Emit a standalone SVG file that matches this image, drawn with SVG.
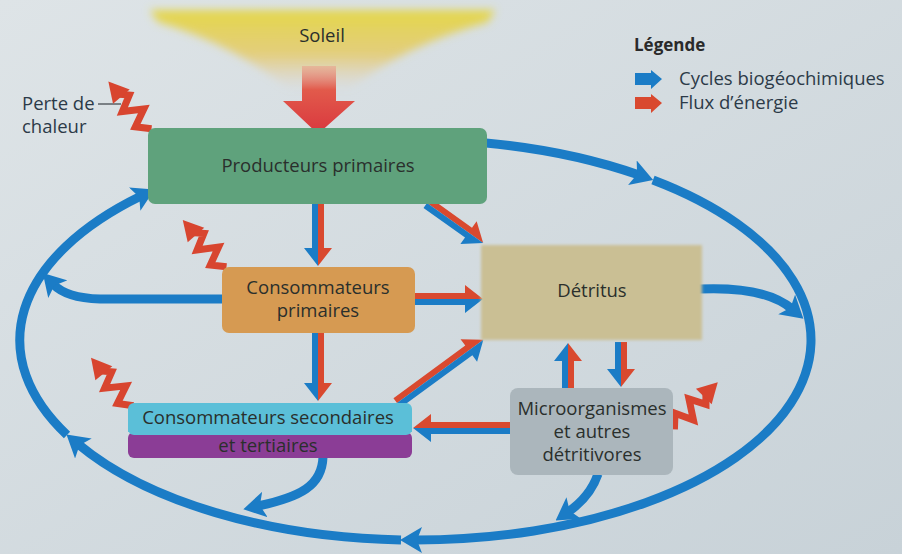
<svg xmlns="http://www.w3.org/2000/svg" width="902" height="554" viewBox="0 0 902 554">
<defs>
<linearGradient id="bg" x1="0" y1="0" x2="1" y2="1"><stop offset="0" stop-color="#dee4e7"/><stop offset="1" stop-color="#c8d2d8"/></linearGradient>
<linearGradient id="sun" x1="0" y1="0" x2="0" y2="1"><stop offset="0" stop-color="#e4d74a"/><stop offset="0.55" stop-color="#e6c85a" stop-opacity="0.75"/><stop offset="1" stop-color="#e8c8a0" stop-opacity="0"/></linearGradient>
<linearGradient id="sunArrow" x1="0" y1="0" x2="0" y2="1"><stop offset="0" stop-color="#e9a48e" stop-opacity="0.6"/><stop offset="0.35" stop-color="#e25a4b"/><stop offset="1" stop-color="#d9373e"/></linearGradient>
<filter id="blur" x="-10%" y="-20%" width="120%" height="140%"><feGaussianBlur stdDeviation="4"/></filter>
<filter id="soft" x="-5%" y="-5%" width="110%" height="110%"><feGaussianBlur stdDeviation="1.5"/></filter>
<marker id="bh" markerUnits="userSpaceOnUse" markerWidth="22" markerHeight="26" viewBox="0 0 22 26" refX="7" refY="13" orient="auto"><path d="M0,0 L22,13 L0,26 L5,13 Z" fill="#1b7cc6"/></marker>
<g id="heat"><polyline points="0,2 12,-9 20,9 32,-9 40,7 47,0" fill="none" stroke="#d8452f" stroke-width="7" stroke-linejoin="miter"/><polygon points="44,-11 64,0 44,11" fill="#d8452f"/></g>
</defs>
<style>
.loop{fill:none;stroke:#1b7cc6;stroke-width:9;marker-end:url(#bh)}
.r{fill:#d9492f}
.b{fill:#1b7cc6}
.t{font-family:"Open Sans","Noto Sans","Liberation Sans",sans-serif;font-size:18.5px;text-anchor:middle;fill:#2a2f2c}
.l{font-family:"Open Sans","Noto Sans","Liberation Sans",sans-serif;font-size:18.5px;fill:#2c3a48}
</style>
<rect width="902" height="554" fill="url(#bg)"/>

<g id="soleil">
<path d="M150,10 L495,10 L488,22 Q 405,45 348,90 L 290,90 Q 235,45 158,22 Z" fill="url(#sun)" filter="url(#blur)"/>
<text class="t" x="322" y="42" fill="#2d2d2d">Soleil</text>
<path d="M302,66 L336,66 L336,101 L355,101 L318,134 L283,101 L302,101 Z" fill="url(#sunArrow)"/>
</g>

<g id="legende">
<text x="634" y="51" font-family="'Open Sans','Noto Sans',sans-serif" font-size="17" font-weight="bold" fill="#2a2a2a">Légende</text>
<path d="M635,73 L651,73 L651,70 L662,79 L651,89 L651,85 L635,85 Z" fill="#1b7cc6"/>
<text class="l" x="679" y="85">Cycles biogéochimiques</text>
<path d="M635,97 L651,97 L651,94 L662,103 L651,113 L651,109 L635,109 Z" fill="#d9492f"/>
<text class="l" x="679" y="109">Flux d’énergie</text>
</g>

<g id="perte-chaleur">
<text class="l" x="22" y="110" fill="#3a3f44">Perte de</text>
<text class="l" x="22" y="133" fill="#3a3f44">chaleur</text>
<line x1="98" y1="104" x2="121" y2="104" stroke="#3a3f44" stroke-width="1.2"/>
</g>

<g id="connecteurs">
<path class="loop" d="M486,143 A395,200 0 0,1 639,175"/>
<path class="loop" d="M653,180 A395,200 0 0,1 415,540"/>
<path class="loop" d="M401,540 A395,200 0 0,1 78,444"/>
<path class="loop" d="M67,435 A395,200 0 0,1 141,196"/>
<path class="loop" d="M699,289 Q 765,286 792,309"/>
<path class="loop" d="M224,299 L100,299 Q 66,298 53,284"/>
<path class="loop" d="M323,457 C 322,486 300,497 258,506"/>
<path class="loop" d="M598,474 Q 590,497 568,512"/>

<g transform="translate(318,204) rotate(90)"><polygon class="r" points="0,-6 44,-6 44,-14 62,0 0,0"/><polygon class="b" points="0,0 62,0 44,14 44,6 0,6"/></g>
<g transform="translate(427,203) rotate(35.5)"><polygon class="r" points="0,-6 51,-6 51,-14 69,0 0,0"/><polygon class="b" points="0,0 69,0 51,14 51,6 0,6"/></g>
<g transform="translate(415,299)"><polygon class="r" points="0,-6 50,-6 50,-14 68,0 0,0"/><polygon class="b" points="0,0 68,0 50,14 50,6 0,6"/></g>
<g transform="translate(318,333) rotate(90)"><polygon class="r" points="0,-6 50,-6 50,-14 68,0 0,0"/><polygon class="b" points="0,0 68,0 50,14 50,6 0,6"/></g>
<g transform="translate(397,403) rotate(-36.2)"><polygon class="r" points="0,-6 89,-6 89,-14 107,0 0,0"/><polygon class="b" points="0,0 107,0 89,14 89,6 0,6"/></g>
<g transform="translate(510,428) rotate(180)"><polygon class="b" points="0,-6 79,-6 79,-14 97,0 0,0"/><polygon class="r" points="0,0 97,0 79,14 79,6 0,6"/></g>
<g transform="translate(568,388) rotate(-90)"><polygon class="b" points="0,-6 27,-6 27,-14 45,0 0,0"/><polygon class="r" points="0,0 45,0 27,14 27,6 0,6"/></g>
<g transform="translate(621,342) rotate(90)"><polygon class="r" points="0,-6 27,-6 27,-14 45,0 0,0"/><polygon class="b" points="0,0 45,0 27,14 27,6 0,6"/></g>

<use href="#heat" transform="translate(150,130) rotate(-130.6)"/>
<use href="#heat" transform="translate(225,268) rotate(-131.3)"/>
<use href="#heat" transform="translate(132,407) rotate(-129.8)"/>
<use href="#heat" transform="translate(673,428) rotate(-45.6)"/>
</g>

<g id="producteurs">
<rect x="148" y="128" width="339" height="76" rx="7" fill="#5fa27c"/>
<text class="t" x="318" y="172" fill="#1f2e27">Producteurs primaires</text>
</g>

<g id="consommateurs-primaires">
<rect x="222" y="267" width="193" height="66" rx="7" fill="#d69a52"/>
<text class="t" x="318" y="294" fill="#4a2b12">Consommateurs</text>
<text class="t" x="318" y="317" fill="#4a2b12">primaires</text>
</g>

<g id="detritus">
<rect x="481" y="245" width="221" height="95" fill="#cabf94" filter="url(#soft)"/>
<text class="t" x="592" y="297" fill="#3a372c">Détritus</text>
</g>

<g id="consommateurs-secondaires">
<rect x="128" y="432" width="284" height="26" rx="6" fill="#8b3d96"/>
<rect x="128" y="403" width="284" height="32" rx="6" fill="#5bbfd8"/>
<rect x="128" y="428" width="284" height="4" fill="#5bbfd8"/>
<text class="t" x="268" y="424" fill="#1d3a52">Consommateurs secondaires</text>
<text class="t" x="268" y="452" fill="#ecd6f0">et tertiaires</text>
</g>

<g id="microorganismes">
<rect x="510" y="388" width="163" height="87" rx="8" fill="#abb6bc"/>
<text class="t" x="592" y="415" fill="#2a3440">Microorganismes</text>
<text class="t" x="592" y="438" fill="#2a3440">et autres</text>
<text class="t" x="592" y="461" fill="#2a3440">détritivores</text>
</g>
</svg>
